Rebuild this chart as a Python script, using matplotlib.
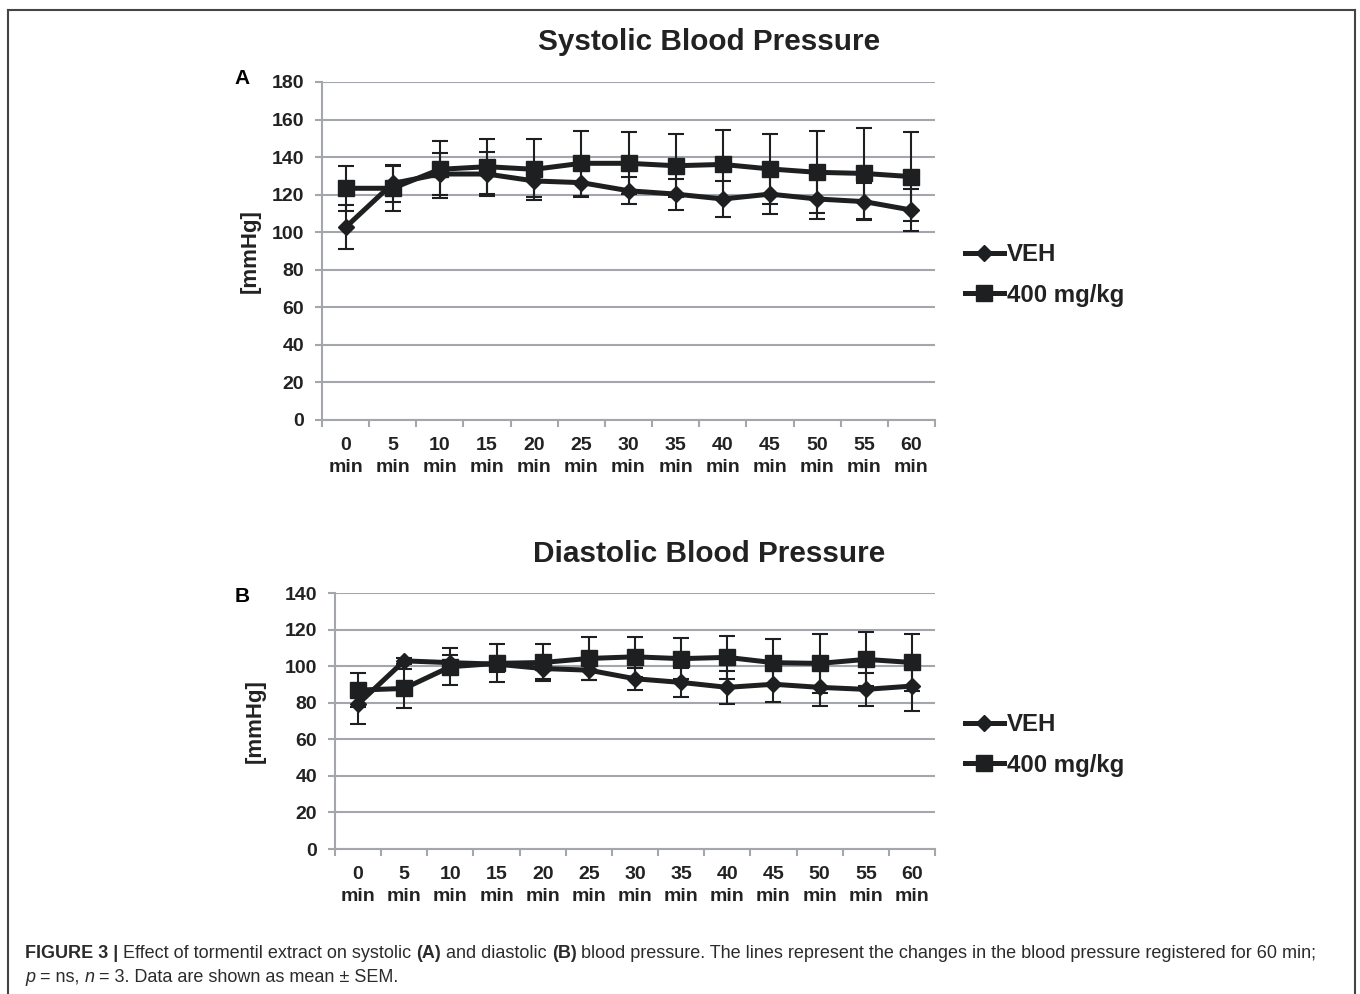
import matplotlib
matplotlib.use('Agg')
import matplotlib.pyplot as plt
from matplotlib.lines import Line2D

plt.rcParams['font.family'] = ['Liberation Sans', 'DejaVu Sans']
plt.rcParams['font.weight'] = 'bold'

# data (mean, SEM)
time_labels = ['0\nmin', '5\nmin', '10\nmin', '15\nmin', '20\nmin', '25\nmin', '30\nmin',
               '35\nmin', '40\nmin', '45\nmin', '50\nmin', '55\nmin', '60\nmin']

sys_veh = [102.6, 126.0, 131.0, 131.0, 127.3, 126.4, 122.1, 120.3, 117.7, 120.3, 117.7, 116.3, 111.8]
sys_veh_sem = [11.7, 10.0, 11.4, 11.7, 8.7, 7.4, 7.3, 8.3, 9.4, 10.6, 10.8, 9.8, 11.2]
sys_400 = [123.4, 123.4, 133.5, 134.9, 133.5, 136.7, 136.7, 135.4, 136.1, 133.7, 131.9, 131.3, 129.6]
sys_400_sem = [12.0, 12.0, 15.2, 14.7, 16.1, 17.2, 16.5, 16.9, 18.3, 18.6, 21.8, 24.2, 23.8]

dia_veh = [79.3, 102.9, 101.9, 101.1, 98.7, 97.8, 93.1, 91.1, 88.4, 90.1, 88.4, 87.3, 89.1]
dia_veh_sem = [11.1, 1.5, 4.0, 4.2, 6.0, 5.5, 6.0, 7.9, 9.1, 9.7, 10.2, 9.1, 13.5]
dia_400 = [86.9, 87.8, 99.7, 101.5, 102.0, 104.2, 105.1, 104.1, 104.8, 101.9, 101.5, 103.7, 102.0]
dia_400_sem = [9.2, 10.9, 10.0, 10.4, 10.0, 11.7, 10.8, 11.1, 11.8, 12.7, 16.0, 14.8, 15.7]

series_labels = ['VEH', '400 mg/kg']

W, H = 1360, 994
fig = plt.figure(figsize=(W / 100, H / 100), dpi=100)

grid_col = '#a3a7ab'
ink = '#1e1f20'
txt = '#222222'


def px_axes(left, right, top, bottom):
    return [left / W, 1 - bottom / H, (right - left) / W, (bottom - top) / H]


def rect_center_y(rect):
    return (1 - (rect[1] + rect[3] / 2)) * H


def panel(rect, veh, veh_sem, d400, d400_sem, ymax, title, title_y, letter, letter_y, ylab_x,
          leg_y):
    ax = fig.add_axes(rect)
    x = list(range(len(time_labels)))
    ax.errorbar(x, veh, yerr=veh_sem, color=ink, lw=3.6, marker='D', ms=8.5,
                ecolor=ink, elinewidth=1.5, capsize=6, capthick=1.5, zorder=3,
                label=series_labels[0])
    ax.errorbar(x, d400, yerr=d400_sem, color=ink, lw=3.6, marker='s', ms=11.5,
                ecolor=ink, elinewidth=1.5, capsize=6, capthick=1.5, zorder=3,
                label=series_labels[1])
    ax.set_xlim(-0.5, len(x) - 0.5)
    ax.set_ylim(0, ymax)
    ax.set_yticks(range(0, ymax + 1, 20))
    ax.yaxis.grid(True, color=grid_col, lw=1.5, zorder=0)
    ax.set_xticks(x)
    ax.set_xticklabels(time_labels, linespacing=1.4)
    ax.set_xticks([i - 0.5 for i in range(len(x) + 1)], minor=True)
    ax.tick_params(axis='x', which='major', length=0, pad=12, labelsize=14, labelcolor=txt)
    ax.tick_params(axis='x', which='minor', length=5, width=1.5, color=grid_col)
    ax.tick_params(axis='y', length=5, width=1.5, color=grid_col, pad=8, labelsize=14,
                   labelcolor=txt)
    for s in ['top', 'right']:
        ax.spines[s].set_visible(False)
    for s in ['left', 'bottom']:
        ax.spines[s].set_color(grid_col)
        ax.spines[s].set_linewidth(1.5)
    ax.set_axisbelow(True)
    fig.text(709 / W, 1 - title_y / H, title, ha='center', va='center', fontsize=21.4,
             color=txt, fontweight='bold')
    fig.text(242 / W, 1 - letter_y / H, letter, ha='center', va='center', fontsize=15,
             color='black', fontweight='bold')
    fig.text(ylab_x / W, 1 - rect_center_y(rect) / H, '[mmHg]', rotation=90, ha='center',
             va='center', fontsize=16, color=txt, fontweight='bold')
    _, labels = ax.get_legend_handles_labels()
    hs = [Line2D([0], [0], color=ink, lw=3.6, marker=m, ms=ms)
          for m, ms in [('D', 8.5), ('s', 11.5)]]
    leg = ax.legend(hs, labels, loc='center left', bbox_to_anchor=(943 / W, 1 - leg_y / H),
                    bbox_transform=fig.transFigure, frameon=False,
                    handlelength=1.65, handletextpad=0.1, labelspacing=0.72,
                    prop={'weight': 'bold', 'size': 17.3})
    for t in leg.get_texts():
        t.set_color(txt)
    return ax


panel(px_axes(322, 935, 82, 420), sys_veh, sys_veh_sem, sys_400, sys_400_sem, 180,
      'Systolic Blood Pressure', 42, 'A', 78, 250, 275)
panel(px_axes(335, 935, 593, 849), dia_veh, dia_veh_sem, dia_400, dia_400_sem, 140,
      'Diastolic Blood Pressure', 554, 'B', 596, 255, 745)

# outer frame
frame_kw = dict(color='#444444', lw=1.5, transform=fig.transFigure)
fig.add_artist(Line2D([8 / W, 8 / W], [0, 1 - 10 / H], **frame_kw))
fig.add_artist(Line2D([8 / W, 1355 / W], [1 - 10 / H, 1 - 10 / H], **frame_kw))
fig.add_artist(Line2D([1355 / W, 1355 / W], [0, 1 - 10 / H], **frame_kw))

# caption, built from pieces
renderer = fig.canvas.get_renderer()
cap_size = 13.0
cap_col = '#2b2b2b'


def caption_line(pieces, y_px):
    x = 25
    for s, style in pieces:
        t = fig.text(x / W, 1 - y_px / H, s, fontsize=cap_size, color=cap_col, va='center',
                     ha='left', fontweight='bold' if style == 'b' else 'normal',
                     fontstyle='italic' if style == 'i' else 'normal')
        x += t.get_window_extent(renderer).width


caption_line([('FIGURE 3 | ', 'b'), ('Effect of tormentil extract on systolic ', 'n'),
              ('(A)', 'b'), (' and diastolic ', 'n'), ('(B)', 'b'),
              (' blood pressure. The lines represent the changes in the blood pressure '
               'registered for 60 min;', 'n')], 953)
caption_line([('p', 'i'), (' = ns, ', 'n'), ('n', 'i'),
              (' = 3. Data are shown as mean \u00b1 SEM.', 'n')], 977)

fig.savefig('out.png', dpi=100)
